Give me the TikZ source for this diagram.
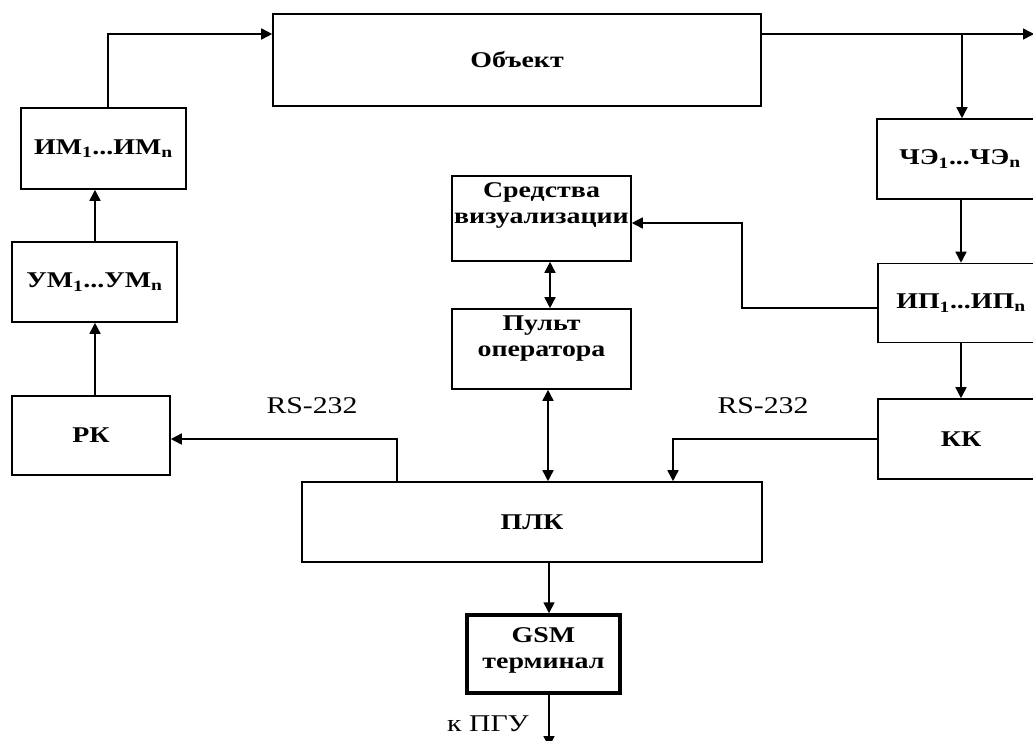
\documentclass[tikz,border=0pt]{standalone}
\usepackage{fontspec}
\setmainfont[FakeStretch=1.24]{Liberation Serif}
\usetikzlibrary{arrows.meta}
\begin{document}
\begin{tikzpicture}[x=1pt,y=-1pt,
  box/.style={draw, line width=1.6pt, font=\fontsize{22.5}{26}\selectfont\bfseries, align=center, inner sep=0pt},
  boxtext/.style={font=\fontsize{22.5}{26}\selectfont\bfseries, align=center, inner sep=0pt},
  conn/.style={line width=1.6pt},
  arr/.style={conn, -{Triangle[length=11pt,width=11pt]}},
  darr/.style={conn, {Triangle[length=11pt,width=11pt]}-{Triangle[length=11pt,width=11pt]}},
  lbl/.style={font=\fontsize{24}{26}\selectfont, inner sep=0pt}]
\useasboundingbox (0,0) rectangle (1033,740);
\clip (0,0) rectangle (1033,740);

% boxes
\node[box, minimum width=488pt, minimum height=92pt] (obj) at (517,60) {Объект};
\node[box, minimum width=165pt, minimum height=81pt] (im) at (103.5,148.5) {ИМ\textsubscript{1}...ИМ\textsubscript{n}};
\node[box, minimum width=165pt, minimum height=80pt] (um) at (94.5,282) {УМ\textsubscript{1}...УМ\textsubscript{n}};
\node[box, minimum width=158pt, minimum height=79pt] (rk) at (91,435.5) {РК};
\node[box, minimum width=166pt, minimum height=80pt] (che) at (960,159) {ЧЭ\textsubscript{1}...ЧЭ\textsubscript{n}};
\node[box, minimum width=166pt, minimum height=79pt] (ip) at (961,303) {ИП\textsubscript{1}...ИП\textsubscript{n}};
\node[box, minimum width=166pt, minimum height=80pt] (kk) at (961,439) {КК};
\node[box, minimum width=179pt, minimum height=85pt] (sv) at (541.5,218.5) {};
\node[boxtext] (svt) at (541.5,205) {Средства\\визуализации};
\node[box, minimum width=179pt, minimum height=80pt] (po) at (541.5,349) {};
\node[boxtext] (pot) at (541.5,339) {Пульт\\оператора};
\node[box, minimum width=460pt, minimum height=80pt] (plc) at (532,522) {ПЛК};
\node[box, line width=3.5pt, minimum width=153pt, minimum height=78pt] (gsm) at (543.5,654) {};
\node[boxtext] (gsmt) at (543.5,650) {GSM\\терминал};

% free ends
\coordinate (outend) at (1034,34);
\coordinate (br) at (962,34);
\coordinate (pgu) at (549,747);

% connectors
\draw[arr] (im.north -| 108,0) |- (obj.west |- 0,34);
\draw[arr] (obj.east |- 0,34) -- (outend);
\draw[arr] (br) -- (che.north -| br);
\draw[arr] (che.south -| 961,0) -- (ip.north -| 961,0);
\draw[arr] (ip.south -| 961,0) -- (kk.north -| 961,0);
\draw[arr] (ip.west |- 0,308) -- (742,308) -- (742,223) -- (sv.east |- 0,223);
\draw[darr] (sv.south -| 550,0) -- (po.north -| 550,0);
\draw[darr] (po.south -| 548,0) -- (plc.north -| 548,0);
\draw[arr] (plc.north -| 397,0) |- (rk.east |- 0,439);
\draw[arr] (kk.west |- 0,439) -| (plc.north -| 673,0);
\draw[arr] (plc.south -| 549,0) -- (gsm.north -| 549,0);
\draw[arr] (gsm.south -| pgu) -- (pgu);
\draw[arr] (rk.north -| 95,0) -- (um.south -| 95,0);
\draw[arr] (um.north -| 95,0) -- (im.south -| 95,0);

% labels
\node[lbl] (rs1) at (312,406) {RS-232};
\node[lbl] (rs2) at (763,406) {RS-232};
\node[lbl] (pgut) at (488,724) {к ПГУ};
\end{tikzpicture}
\end{document}
